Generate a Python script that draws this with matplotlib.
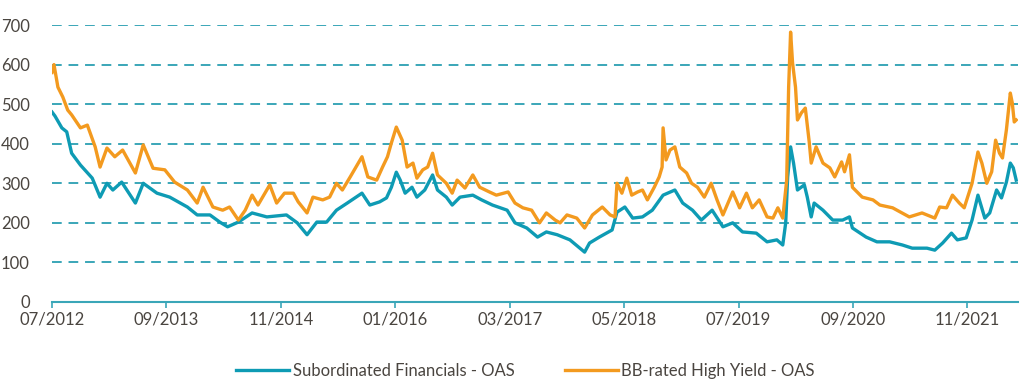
import numpy as np
import matplotlib.pyplot as plt

# Spreads (bp), dates as decimal years
sub_dates = [2012.50, 2012.53, 2012.60, 2012.65, 2012.70, 2012.79, 2012.91, 2012.99, 2013.06, 2013.12,
             2013.21, 2013.35, 2013.43, 2013.57, 2013.70, 2013.88, 2013.98, 2014.11, 2014.21, 2014.29,
             2014.40, 2014.54, 2014.69, 2014.89, 2015.00, 2015.10, 2015.20, 2015.30, 2015.40, 2015.51,
             2015.66, 2015.74, 2015.84, 2015.91, 2015.96, 2016.01, 2016.05, 2016.10, 2016.17, 2016.22,
             2016.30, 2016.38, 2016.43, 2016.52, 2016.58, 2016.66, 2016.79, 2016.88, 2016.99, 2017.14,
             2017.22, 2017.34, 2017.45, 2017.54, 2017.65, 2017.71, 2017.78, 2017.93, 2017.98, 2018.08,
             2018.21, 2018.26, 2018.34, 2018.42, 2018.52, 2018.62, 2018.73, 2018.85, 2018.93, 2019.03,
             2019.12, 2019.23, 2019.34, 2019.44, 2019.54, 2019.68, 2019.79, 2019.89, 2019.95, 2019.98,
             2020.00, 2020.03, 2020.06, 2020.10, 2020.17, 2020.20, 2020.24, 2020.27, 2020.36, 2020.46,
             2020.56, 2020.63, 2020.66, 2020.80, 2020.91, 2021.04, 2021.17, 2021.27, 2021.42, 2021.50,
             2021.58, 2021.67, 2021.73, 2021.82, 2021.88, 2021.94, 2022.01, 2022.06, 2022.13, 2022.18,
             2022.23, 2022.27, 2022.30, 2022.33]
sub_oas = [480, 470, 440, 430, 376, 346, 313, 265, 300, 283,
           303, 250, 300, 275, 265, 240, 220, 220, 202, 190,
           202, 225, 215, 220, 200, 170, 202, 202, 232, 250,
           275, 245, 253, 263, 290, 328, 308, 275, 290, 265,
           283, 321, 283, 265, 245, 265, 270, 258, 245, 232,
           200, 187, 164, 177, 170, 164, 157, 126, 149, 164,
           182, 227, 240, 212, 215, 232, 270, 283, 250, 232,
           207, 232, 190, 200, 177, 174, 152, 157, 144, 200,
           316, 392, 351, 283, 296, 265, 215, 250, 232, 207,
           207, 215, 187, 164, 152, 152, 144, 136, 136, 131,
           149, 174, 157, 162, 207, 270, 212, 225, 283, 263,
           303, 351, 339, 308]

bb_dates = [2012.50, 2012.52, 2012.56, 2012.61, 2012.66, 2012.70, 2012.79, 2012.86, 2012.94, 2012.99,
            2013.06, 2013.14, 2013.22, 2013.35, 2013.43, 2013.53, 2013.65, 2013.75, 2013.88, 2013.98,
            2014.04, 2014.14, 2014.24, 2014.31, 2014.40, 2014.47, 2014.54, 2014.60, 2014.72, 2014.79,
            2014.87, 2014.96, 2015.01, 2015.10, 2015.16, 2015.26, 2015.33, 2015.40, 2015.46, 2015.54,
            2015.66, 2015.72, 2015.81, 2015.87, 2015.92, 2015.96, 2016.01, 2016.07, 2016.12, 2016.18,
            2016.22, 2016.28, 2016.33, 2016.38, 2016.43, 2016.52, 2016.58, 2016.63, 2016.71, 2016.79,
            2016.86, 2016.96, 2017.03, 2017.15, 2017.22, 2017.30, 2017.39, 2017.47, 2017.54, 2017.63,
            2017.68, 2017.75, 2017.85, 2017.93, 2018.01, 2018.11, 2018.19, 2018.24, 2018.26, 2018.31,
            2018.36, 2018.41, 2018.47, 2018.52, 2018.57, 2018.64, 2018.69, 2018.72, 2018.73, 2018.76,
            2018.80, 2018.85, 2018.90, 2018.97, 2019.02, 2019.08, 2019.15, 2019.22, 2019.28, 2019.34,
            2019.44, 2019.51, 2019.58, 2019.64, 2019.71, 2019.79, 2019.85, 2019.90, 2019.95, 2019.99,
            2020.01, 2020.03, 2020.05, 2020.08, 2020.10, 2020.14, 2020.18, 2020.22, 2020.24, 2020.29,
            2020.36, 2020.43, 2020.48, 2020.55, 2020.58, 2020.63, 2020.66, 2020.76, 2020.87, 2020.94,
            2021.07, 2021.24, 2021.37, 2021.50, 2021.55, 2021.62, 2021.68, 2021.75, 2021.80, 2021.88,
            2021.94, 2021.98, 2022.03, 2022.08, 2022.12, 2022.16, 2022.19, 2022.23, 2022.27, 2022.29,
            2022.31, 2022.33]
bb_oas = [580, 600, 543, 518, 485, 473, 440, 447, 392, 341,
          389, 367, 384, 326, 397, 338, 334, 303, 283, 250,
          290, 240, 232, 240, 207, 232, 270, 245, 296, 250,
          275, 275, 253, 225, 265, 258, 265, 300, 283, 316,
          367, 316, 308, 341, 367, 402, 442, 409, 341, 351,
          313, 334, 341, 376, 321, 300, 275, 308, 288, 321,
          290, 278, 270, 278, 250, 238, 232, 200, 225, 207,
          200, 220, 212, 187, 220, 240, 220, 215, 300, 275,
          313, 270, 278, 283, 258, 290, 316, 341, 440, 359,
          384, 392, 341, 326, 300, 290, 265, 300, 258, 220,
          278, 238, 275, 238, 258, 215, 212, 238, 212, 308,
          543, 682, 604, 543, 460, 478, 490, 404, 351, 392,
          351, 339, 316, 354, 329, 372, 290, 265, 258, 245,
          238, 215, 225, 212, 240, 238, 270, 250, 238, 300,
          379, 351, 300, 329, 409, 376, 364, 435, 528, 503,
          455, 460]

tick_pos = [2012.5 + k * 14 / 12 for k in range(9)]
tick_labels = ['07/2012', '09/2013', '11/2014', '01/2016', '03/2017',
               '05/2018', '07/2019', '09/2020', '11/2021']

teal = '#0e9bb4'
orange = '#f39a1f'
grid_c = '#3aa6b8'
txt_c = '#4a4540'

plt.rcParams['font.family'] = ['Lato', 'DejaVu Sans']

fig = plt.figure(figsize=(10.24, 3.89), dpi=100)
ax = fig.add_axes([0.0508, 0.2237, 0.9435, 0.712])

ax.plot(sub_dates, sub_oas, color=teal, lw=2.4, label='Subordinated Financials - OAS',
        zorder=3, solid_joinstyle='round')
ax.plot(bb_dates, bb_oas, color=orange, lw=2.4, label='BB-rated High Yield - OAS',
        zorder=3, solid_joinstyle='round')

ax.set_xlim(2012.5, 2022.35)
ax.set_ylim(0, 700)
ax.set_yticks(range(0, 701, 100))
ax.set_xticks(tick_pos)
ax.set_xticklabels(tick_labels)

for v in range(100, 701, 100):
    ax.axhline(v, color=grid_c, lw=1.4, ls=(0, (5, 3.5)), zorder=1)

for s in ['top', 'right', 'left']:
    ax.spines[s].set_visible(False)
ax.spines['bottom'].set_color(grid_c)
ax.spines['bottom'].set_linewidth(1.5)
ax.tick_params(axis='y', length=0, pad=16, labelsize=12, labelcolor=txt_c)
ax.tick_params(axis='x', length=4, width=1.2, color=grid_c, pad=3, labelsize=12, labelcolor=txt_c)

leg = ax.legend(loc='upper center', bbox_to_anchor=(0.49, -0.165), ncol=2, frameon=False,
                fontsize=12, handlelength=3.2, handletextpad=0.2, columnspacing=3.0)
for t in leg.get_texts():
    t.set_color(txt_c)

fig.savefig('out.png', dpi=100)
